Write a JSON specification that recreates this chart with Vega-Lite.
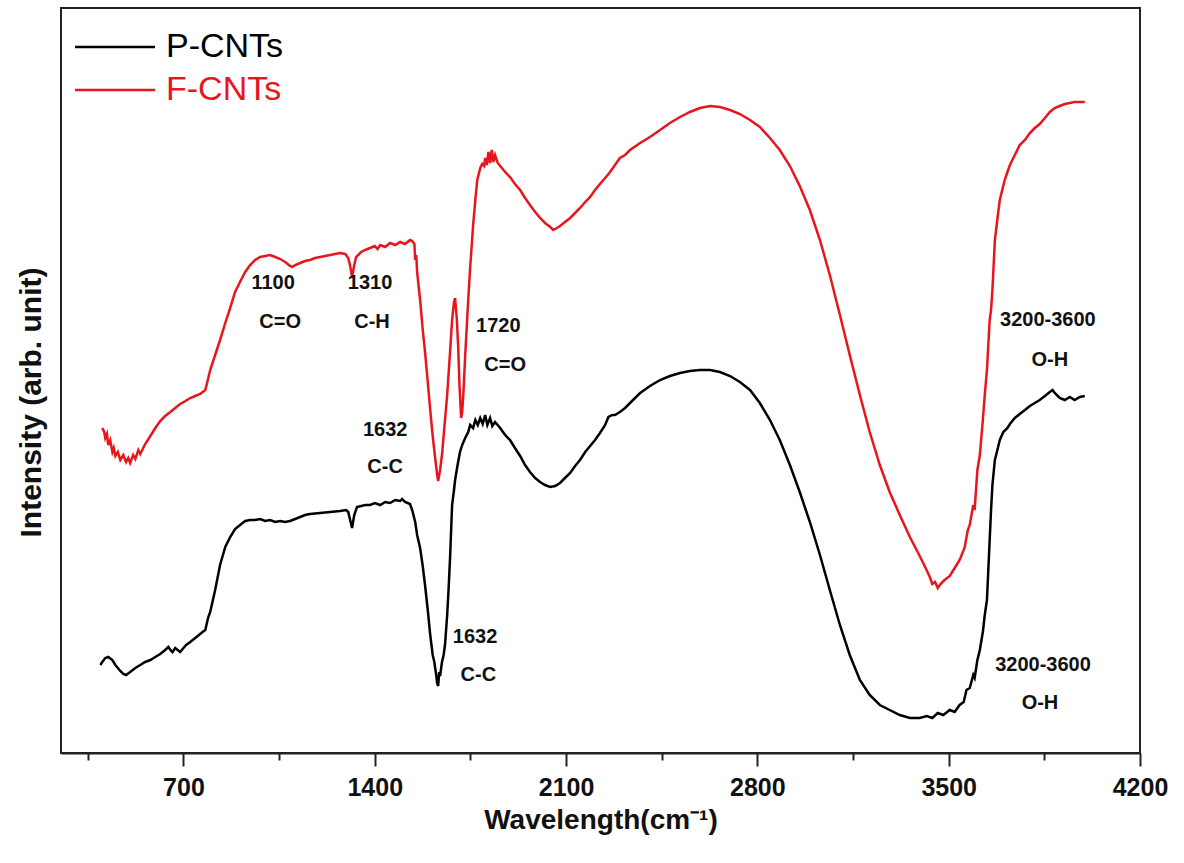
{
  "$schema": "https://vega.github.io/schema/vega-lite/v6.json",
  "width": 1079,
  "height": 745,
  "autosize": "none",
  "padding": {"left": 61, "top": 8, "right": 44, "bottom": 110},
  "config": {"view": {"stroke": "#222", "strokeWidth": 2}, "font": "Liberation Sans"},
  "datasets": {
    "spectra": [
      {"s":"F-CNTs","w":403,"i":325},{"s":"F-CNTs","w":410,"i":321},{"s":"F-CNTs","w":414,"i":315},{"s":"F-CNTs","w":420,"i":319},{"s":"F-CNTs","w":425,"i":308},{"s":"F-CNTs","w":432,"i":313},{"s":"F-CNTs","w":440,"i":301},{"s":"F-CNTs","w":445,"i":305},{"s":"F-CNTs","w":451,"i":297},{"s":"F-CNTs","w":460,"i":301},{"s":"F-CNTs","w":469,"i":293},{"s":"F-CNTs","w":480,"i":298},{"s":"F-CNTs","w":490,"i":291},{"s":"F-CNTs","w":498,"i":295},{"s":"F-CNTs","w":505,"i":290},{"s":"F-CNTs","w":516,"i":298},{"s":"F-CNTs","w":524,"i":294},{"s":"F-CNTs","w":535,"i":303},{"s":"F-CNTs","w":542,"i":299},{"s":"F-CNTs","w":560,"i":309},{"s":"F-CNTs","w":579,"i":317},{"s":"F-CNTs","w":597,"i":325},{"s":"F-CNTs","w":615,"i":332},{"s":"F-CNTs","w":633,"i":337},{"s":"F-CNTs","w":652,"i":341},{"s":"F-CNTs","w":670,"i":345},{"s":"F-CNTs","w":688,"i":349},{"s":"F-CNTs","w":707,"i":352},{"s":"F-CNTs","w":725,"i":355},{"s":"F-CNTs","w":743,"i":357},{"s":"F-CNTs","w":761,"i":359},{"s":"F-CNTs","w":780,"i":363},{"s":"F-CNTs","w":798,"i":383},{"s":"F-CNTs","w":816,"i":398},{"s":"F-CNTs","w":834,"i":413},{"s":"F-CNTs","w":853,"i":430},{"s":"F-CNTs","w":871,"i":445},{"s":"F-CNTs","w":889,"i":461},{"s":"F-CNTs","w":907,"i":471},{"s":"F-CNTs","w":926,"i":481},{"s":"F-CNTs","w":944,"i":488},{"s":"F-CNTs","w":962,"i":493},{"s":"F-CNTs","w":981,"i":496},{"s":"F-CNTs","w":999,"i":497},{"s":"F-CNTs","w":1017,"i":498},{"s":"F-CNTs","w":1036,"i":496},{"s":"F-CNTs","w":1054,"i":494},{"s":"F-CNTs","w":1072,"i":491},{"s":"F-CNTs","w":1090,"i":487},{"s":"F-CNTs","w":1098,"i":486},{"s":"F-CNTs","w":1109,"i":488},{"s":"F-CNTs","w":1127,"i":490},{"s":"F-CNTs","w":1145,"i":492},{"s":"F-CNTs","w":1163,"i":493},{"s":"F-CNTs","w":1182,"i":495},{"s":"F-CNTs","w":1200,"i":496},{"s":"F-CNTs","w":1237,"i":498},{"s":"F-CNTs","w":1273,"i":500},{"s":"F-CNTs","w":1292,"i":499},{"s":"F-CNTs","w":1303,"i":495},{"s":"F-CNTs","w":1310,"i":487},{"s":"F-CNTs","w":1317,"i":476},{"s":"F-CNTs","w":1325,"i":488},{"s":"F-CNTs","w":1332,"i":496},{"s":"F-CNTs","w":1350,"i":501},{"s":"F-CNTs","w":1365,"i":503},{"s":"F-CNTs","w":1383,"i":505},{"s":"F-CNTs","w":1400,"i":507},{"s":"F-CNTs","w":1410,"i":504},{"s":"F-CNTs","w":1420,"i":508},{"s":"F-CNTs","w":1438,"i":506},{"s":"F-CNTs","w":1456,"i":510},{"s":"F-CNTs","w":1475,"i":508},{"s":"F-CNTs","w":1493,"i":511},{"s":"F-CNTs","w":1511,"i":509},{"s":"F-CNTs","w":1529,"i":513},{"s":"F-CNTs","w":1537,"i":512},{"s":"F-CNTs","w":1545,"i":509},{"s":"F-CNTs","w":1548,"i":493},{"s":"F-CNTs","w":1552,"i":498},{"s":"F-CNTs","w":1555,"i":481},{"s":"F-CNTs","w":1566,"i":453},{"s":"F-CNTs","w":1575,"i":425},{"s":"F-CNTs","w":1584,"i":401},{"s":"F-CNTs","w":1594,"i":371},{"s":"F-CNTs","w":1603,"i":343},{"s":"F-CNTs","w":1612,"i":317},{"s":"F-CNTs","w":1621,"i":295},{"s":"F-CNTs","w":1628,"i":279},{"s":"F-CNTs","w":1632,"i":272},{"s":"F-CNTs","w":1639,"i":283},{"s":"F-CNTs","w":1646,"i":298},{"s":"F-CNTs","w":1657,"i":333},{"s":"F-CNTs","w":1665,"i":358},{"s":"F-CNTs","w":1676,"i":403},{"s":"F-CNTs","w":1683,"i":433},{"s":"F-CNTs","w":1690,"i":451},{"s":"F-CNTs","w":1694,"i":455},{"s":"F-CNTs","w":1700,"i":435},{"s":"F-CNTs","w":1705,"i":408},{"s":"F-CNTs","w":1710,"i":368},{"s":"F-CNTs","w":1716,"i":335},{"s":"F-CNTs","w":1720,"i":341},{"s":"F-CNTs","w":1725,"i":363},{"s":"F-CNTs","w":1731,"i":398},{"s":"F-CNTs","w":1742,"i":453},{"s":"F-CNTs","w":1749,"i":485},{"s":"F-CNTs","w":1760,"i":528},{"s":"F-CNTs","w":1768,"i":553},{"s":"F-CNTs","w":1775,"i":573},{"s":"F-CNTs","w":1786,"i":585},{"s":"F-CNTs","w":1793,"i":589},{"s":"F-CNTs","w":1800,"i":587},{"s":"F-CNTs","w":1804,"i":595},{"s":"F-CNTs","w":1810,"i":588},{"s":"F-CNTs","w":1816,"i":601},{"s":"F-CNTs","w":1822,"i":590},{"s":"F-CNTs","w":1828,"i":603},{"s":"F-CNTs","w":1834,"i":591},{"s":"F-CNTs","w":1840,"i":598},{"s":"F-CNTs","w":1850,"i":590},{"s":"F-CNTs","w":1859,"i":587},{"s":"F-CNTs","w":1877,"i":581},{"s":"F-CNTs","w":1895,"i":576},{"s":"F-CNTs","w":1913,"i":569},{"s":"F-CNTs","w":1932,"i":563},{"s":"F-CNTs","w":1950,"i":555},{"s":"F-CNTs","w":1968,"i":548},{"s":"F-CNTs","w":1987,"i":541},{"s":"F-CNTs","w":2005,"i":535},{"s":"F-CNTs","w":2023,"i":530},{"s":"F-CNTs","w":2042,"i":526},{"s":"F-CNTs","w":2053,"i":523},{"s":"F-CNTs","w":2060,"i":524},{"s":"F-CNTs","w":2078,"i":527},{"s":"F-CNTs","w":2096,"i":531},{"s":"F-CNTs","w":2115,"i":535},{"s":"F-CNTs","w":2133,"i":540},{"s":"F-CNTs","w":2151,"i":545},{"s":"F-CNTs","w":2170,"i":551},{"s":"F-CNTs","w":2188,"i":556},{"s":"F-CNTs","w":2206,"i":563},{"s":"F-CNTs","w":2224,"i":569},{"s":"F-CNTs","w":2243,"i":575},{"s":"F-CNTs","w":2261,"i":581},{"s":"F-CNTs","w":2279,"i":588},{"s":"F-CNTs","w":2297,"i":595},{"s":"F-CNTs","w":2316,"i":598},{"s":"F-CNTs","w":2334,"i":603},{"s":"F-CNTs","w":2371,"i":610},{"s":"F-CNTs","w":2407,"i":616},{"s":"F-CNTs","w":2444,"i":623},{"s":"F-CNTs","w":2480,"i":630},{"s":"F-CNTs","w":2517,"i":636},{"s":"F-CNTs","w":2553,"i":641},{"s":"F-CNTs","w":2590,"i":645},{"s":"F-CNTs","w":2627,"i":647},{"s":"F-CNTs","w":2663,"i":646},{"s":"F-CNTs","w":2700,"i":643},{"s":"F-CNTs","w":2736,"i":639},{"s":"F-CNTs","w":2773,"i":633},{"s":"F-CNTs","w":2809,"i":626},{"s":"F-CNTs","w":2846,"i":615},{"s":"F-CNTs","w":2882,"i":603},{"s":"F-CNTs","w":2919,"i":587},{"s":"F-CNTs","w":2955,"i":567},{"s":"F-CNTs","w":2992,"i":543},{"s":"F-CNTs","w":3029,"i":513},{"s":"F-CNTs","w":3065,"i":478},{"s":"F-CNTs","w":3102,"i":438},{"s":"F-CNTs","w":3138,"i":398},{"s":"F-CNTs","w":3175,"i":358},{"s":"F-CNTs","w":3211,"i":321},{"s":"F-CNTs","w":3248,"i":288},{"s":"F-CNTs","w":3284,"i":261},{"s":"F-CNTs","w":3321,"i":238},{"s":"F-CNTs","w":3358,"i":216},{"s":"F-CNTs","w":3394,"i":197},{"s":"F-CNTs","w":3412,"i":187},{"s":"F-CNTs","w":3431,"i":176},{"s":"F-CNTs","w":3440,"i":169},{"s":"F-CNTs","w":3450,"i":171},{"s":"F-CNTs","w":3460,"i":165},{"s":"F-CNTs","w":3470,"i":169},{"s":"F-CNTs","w":3485,"i":173},{"s":"F-CNTs","w":3504,"i":177},{"s":"F-CNTs","w":3522,"i":185},{"s":"F-CNTs","w":3540,"i":193},{"s":"F-CNTs","w":3558,"i":205},{"s":"F-CNTs","w":3570,"i":223},{"s":"F-CNTs","w":3577,"i":228},{"s":"F-CNTs","w":3590,"i":248},{"s":"F-CNTs","w":3595,"i":243},{"s":"F-CNTs","w":3605,"i":283},{"s":"F-CNTs","w":3614,"i":298},{"s":"F-CNTs","w":3625,"i":333},{"s":"F-CNTs","w":3632,"i":358},{"s":"F-CNTs","w":3640,"i":383},{"s":"F-CNTs","w":3645,"i":408},{"s":"F-CNTs","w":3650,"i":433},{"s":"F-CNTs","w":3655,"i":443},{"s":"F-CNTs","w":3660,"i":463},{"s":"F-CNTs","w":3669,"i":513},{"s":"F-CNTs","w":3680,"i":538},{"s":"F-CNTs","w":3687,"i":553},{"s":"F-CNTs","w":3696,"i":563},{"s":"F-CNTs","w":3705,"i":573},{"s":"F-CNTs","w":3715,"i":581},{"s":"F-CNTs","w":3724,"i":588},{"s":"F-CNTs","w":3742,"i":598},{"s":"F-CNTs","w":3760,"i":608},{"s":"F-CNTs","w":3779,"i":613},{"s":"F-CNTs","w":3797,"i":620},{"s":"F-CNTs","w":3815,"i":625},{"s":"F-CNTs","w":3833,"i":629},{"s":"F-CNTs","w":3852,"i":635},{"s":"F-CNTs","w":3870,"i":641},{"s":"F-CNTs","w":3888,"i":645},{"s":"F-CNTs","w":3906,"i":647},{"s":"F-CNTs","w":3925,"i":649},{"s":"F-CNTs","w":3943,"i":650},{"s":"F-CNTs","w":3961,"i":651},{"s":"F-CNTs","w":3980,"i":651},{"s":"F-CNTs","w":3998,"i":651},
      {"s":"P-CNTs","w":396,"i":88},{"s":"P-CNTs","w":403,"i":91},{"s":"P-CNTs","w":414,"i":95},{"s":"P-CNTs","w":425,"i":96},{"s":"P-CNTs","w":440,"i":93},{"s":"P-CNTs","w":451,"i":88},{"s":"P-CNTs","w":469,"i":82},{"s":"P-CNTs","w":480,"i":79},{"s":"P-CNTs","w":490,"i":78},{"s":"P-CNTs","w":505,"i":81},{"s":"P-CNTs","w":524,"i":85},{"s":"P-CNTs","w":542,"i":88},{"s":"P-CNTs","w":560,"i":91},{"s":"P-CNTs","w":579,"i":93},{"s":"P-CNTs","w":597,"i":96},{"s":"P-CNTs","w":615,"i":99},{"s":"P-CNTs","w":633,"i":103},{"s":"P-CNTs","w":645,"i":106},{"s":"P-CNTs","w":652,"i":103},{"s":"P-CNTs","w":660,"i":101},{"s":"P-CNTs","w":670,"i":105},{"s":"P-CNTs","w":688,"i":101},{"s":"P-CNTs","w":700,"i":105},{"s":"P-CNTs","w":710,"i":108},{"s":"P-CNTs","w":725,"i":111},{"s":"P-CNTs","w":743,"i":115},{"s":"P-CNTs","w":761,"i":119},{"s":"P-CNTs","w":770,"i":121},{"s":"P-CNTs","w":780,"i":123},{"s":"P-CNTs","w":790,"i":135},{"s":"P-CNTs","w":798,"i":141},{"s":"P-CNTs","w":816,"i":163},{"s":"P-CNTs","w":834,"i":188},{"s":"P-CNTs","w":853,"i":206},{"s":"P-CNTs","w":871,"i":216},{"s":"P-CNTs","w":889,"i":224},{"s":"P-CNTs","w":907,"i":228},{"s":"P-CNTs","w":926,"i":232},{"s":"P-CNTs","w":944,"i":233},{"s":"P-CNTs","w":962,"i":233},{"s":"P-CNTs","w":981,"i":234},{"s":"P-CNTs","w":999,"i":232},{"s":"P-CNTs","w":1017,"i":233},{"s":"P-CNTs","w":1036,"i":231},{"s":"P-CNTs","w":1054,"i":232},{"s":"P-CNTs","w":1072,"i":231},{"s":"P-CNTs","w":1090,"i":232},{"s":"P-CNTs","w":1109,"i":234},{"s":"P-CNTs","w":1127,"i":236},{"s":"P-CNTs","w":1145,"i":238},{"s":"P-CNTs","w":1163,"i":239},{"s":"P-CNTs","w":1200,"i":240},{"s":"P-CNTs","w":1237,"i":241},{"s":"P-CNTs","w":1273,"i":242},{"s":"P-CNTs","w":1295,"i":243},{"s":"P-CNTs","w":1303,"i":241},{"s":"P-CNTs","w":1310,"i":233},{"s":"P-CNTs","w":1317,"i":225},{"s":"P-CNTs","w":1325,"i":238},{"s":"P-CNTs","w":1335,"i":246},{"s":"P-CNTs","w":1365,"i":248},{"s":"P-CNTs","w":1383,"i":248},{"s":"P-CNTs","w":1400,"i":250},{"s":"P-CNTs","w":1420,"i":248},{"s":"P-CNTs","w":1438,"i":251},{"s":"P-CNTs","w":1456,"i":250},{"s":"P-CNTs","w":1475,"i":253},{"s":"P-CNTs","w":1493,"i":252},{"s":"P-CNTs","w":1500,"i":254},{"s":"P-CNTs","w":1511,"i":251},{"s":"P-CNTs","w":1529,"i":249},{"s":"P-CNTs","w":1537,"i":243},{"s":"P-CNTs","w":1548,"i":231},{"s":"P-CNTs","w":1555,"i":218},{"s":"P-CNTs","w":1566,"i":205},{"s":"P-CNTs","w":1575,"i":188},{"s":"P-CNTs","w":1584,"i":168},{"s":"P-CNTs","w":1594,"i":143},{"s":"P-CNTs","w":1603,"i":118},{"s":"P-CNTs","w":1612,"i":98},{"s":"P-CNTs","w":1618,"i":91},{"s":"P-CNTs","w":1621,"i":85},{"s":"P-CNTs","w":1625,"i":78},{"s":"P-CNTs","w":1628,"i":70},{"s":"P-CNTs","w":1632,"i":67},{"s":"P-CNTs","w":1636,"i":81},{"s":"P-CNTs","w":1639,"i":77},{"s":"P-CNTs","w":1646,"i":91},{"s":"P-CNTs","w":1652,"i":98},{"s":"P-CNTs","w":1657,"i":108},{"s":"P-CNTs","w":1665,"i":138},{"s":"P-CNTs","w":1670,"i":163},{"s":"P-CNTs","w":1676,"i":198},{"s":"P-CNTs","w":1683,"i":248},{"s":"P-CNTs","w":1690,"i":263},{"s":"P-CNTs","w":1694,"i":273},{"s":"P-CNTs","w":1700,"i":283},{"s":"P-CNTs","w":1705,"i":291},{"s":"P-CNTs","w":1712,"i":301},{"s":"P-CNTs","w":1720,"i":308},{"s":"P-CNTs","w":1731,"i":315},{"s":"P-CNTs","w":1742,"i":321},{"s":"P-CNTs","w":1749,"i":328},{"s":"P-CNTs","w":1760,"i":325},{"s":"P-CNTs","w":1768,"i":333},{"s":"P-CNTs","w":1777,"i":328},{"s":"P-CNTs","w":1786,"i":335},{"s":"P-CNTs","w":1795,"i":329},{"s":"P-CNTs","w":1804,"i":338},{"s":"P-CNTs","w":1812,"i":328},{"s":"P-CNTs","w":1822,"i":335},{"s":"P-CNTs","w":1830,"i":327},{"s":"P-CNTs","w":1840,"i":331},{"s":"P-CNTs","w":1859,"i":325},{"s":"P-CNTs","w":1877,"i":318},{"s":"P-CNTs","w":1895,"i":313},{"s":"P-CNTs","w":1913,"i":305},{"s":"P-CNTs","w":1932,"i":297},{"s":"P-CNTs","w":1950,"i":288},{"s":"P-CNTs","w":1968,"i":281},{"s":"P-CNTs","w":1987,"i":275},{"s":"P-CNTs","w":2005,"i":271},{"s":"P-CNTs","w":2023,"i":268},{"s":"P-CNTs","w":2042,"i":266},{"s":"P-CNTs","w":2060,"i":267},{"s":"P-CNTs","w":2078,"i":270},{"s":"P-CNTs","w":2096,"i":275},{"s":"P-CNTs","w":2115,"i":280},{"s":"P-CNTs","w":2133,"i":287},{"s":"P-CNTs","w":2151,"i":293},{"s":"P-CNTs","w":2170,"i":301},{"s":"P-CNTs","w":2188,"i":307},{"s":"P-CNTs","w":2206,"i":313},{"s":"P-CNTs","w":2224,"i":320},{"s":"P-CNTs","w":2243,"i":328},{"s":"P-CNTs","w":2255,"i":336},{"s":"P-CNTs","w":2270,"i":338},{"s":"P-CNTs","w":2279,"i":338},{"s":"P-CNTs","w":2297,"i":341},{"s":"P-CNTs","w":2316,"i":345},{"s":"P-CNTs","w":2334,"i":350},{"s":"P-CNTs","w":2371,"i":360},{"s":"P-CNTs","w":2407,"i":367},{"s":"P-CNTs","w":2444,"i":373},{"s":"P-CNTs","w":2480,"i":377},{"s":"P-CNTs","w":2517,"i":380},{"s":"P-CNTs","w":2553,"i":382},{"s":"P-CNTs","w":2590,"i":383},{"s":"P-CNTs","w":2627,"i":383},{"s":"P-CNTs","w":2663,"i":381},{"s":"P-CNTs","w":2700,"i":377},{"s":"P-CNTs","w":2736,"i":371},{"s":"P-CNTs","w":2773,"i":363},{"s":"P-CNTs","w":2809,"i":350},{"s":"P-CNTs","w":2846,"i":333},{"s":"P-CNTs","w":2882,"i":313},{"s":"P-CNTs","w":2919,"i":288},{"s":"P-CNTs","w":2955,"i":261},{"s":"P-CNTs","w":2992,"i":231},{"s":"P-CNTs","w":3029,"i":198},{"s":"P-CNTs","w":3065,"i":163},{"s":"P-CNTs","w":3102,"i":128},{"s":"P-CNTs","w":3138,"i":98},{"s":"P-CNTs","w":3175,"i":73},{"s":"P-CNTs","w":3211,"i":58},{"s":"P-CNTs","w":3248,"i":48},{"s":"P-CNTs","w":3284,"i":43},{"s":"P-CNTs","w":3321,"i":38},{"s":"P-CNTs","w":3358,"i":35},{"s":"P-CNTs","w":3394,"i":35},{"s":"P-CNTs","w":3420,"i":37},{"s":"P-CNTs","w":3440,"i":35},{"s":"P-CNTs","w":3460,"i":40},{"s":"P-CNTs","w":3480,"i":38},{"s":"P-CNTs","w":3504,"i":43},{"s":"P-CNTs","w":3522,"i":41},{"s":"P-CNTs","w":3540,"i":48},{"s":"P-CNTs","w":3555,"i":51},{"s":"P-CNTs","w":3565,"i":63},{"s":"P-CNTs","w":3577,"i":65},{"s":"P-CNTs","w":3590,"i":78},{"s":"P-CNTs","w":3595,"i":75},{"s":"P-CNTs","w":3605,"i":93},{"s":"P-CNTs","w":3614,"i":103},{"s":"P-CNTs","w":3620,"i":113},{"s":"P-CNTs","w":3625,"i":121},{"s":"P-CNTs","w":3632,"i":138},{"s":"P-CNTs","w":3640,"i":153},{"s":"P-CNTs","w":3645,"i":183},{"s":"P-CNTs","w":3650,"i":213},{"s":"P-CNTs","w":3655,"i":243},{"s":"P-CNTs","w":3660,"i":268},{"s":"P-CNTs","w":3669,"i":293},{"s":"P-CNTs","w":3680,"i":305},{"s":"P-CNTs","w":3687,"i":313},{"s":"P-CNTs","w":3700,"i":321},{"s":"P-CNTs","w":3715,"i":325},{"s":"P-CNTs","w":3724,"i":329},{"s":"P-CNTs","w":3742,"i":335},{"s":"P-CNTs","w":3760,"i":339},{"s":"P-CNTs","w":3779,"i":343},{"s":"P-CNTs","w":3797,"i":347},{"s":"P-CNTs","w":3815,"i":350},{"s":"P-CNTs","w":3833,"i":353},{"s":"P-CNTs","w":3852,"i":357},{"s":"P-CNTs","w":3870,"i":361},{"s":"P-CNTs","w":3880,"i":363},{"s":"P-CNTs","w":3888,"i":360},{"s":"P-CNTs","w":3906,"i":355},{"s":"P-CNTs","w":3925,"i":353},{"s":"P-CNTs","w":3943,"i":356},{"s":"P-CNTs","w":3961,"i":353},{"s":"P-CNTs","w":3980,"i":356},{"s":"P-CNTs","w":3998,"i":357}
    ],
    "notes": [
      {"w":1028,"i":470,"t":"1100"},{"w":1054,"i":431,"t":"C=O"},
      {"w":1383,"i":470,"t":"1310"},{"w":1390,"i":431,"t":"C-H"},
      {"w":1852,"i":427,"t":"1720"},{"w":1877,"i":388,"t":"C=O"},
      {"w":1438,"i":323,"t":"1632"},{"w":1438,"i":286,"t":"C-C"},
      {"w":1767,"i":116,"t":"1632"},{"w":1779,"i":78,"t":"C-C"},
      {"w":3863,"i":433,"t":"3200-3600"},{"w":3870,"i":393,"t":"O-H"},
      {"w":3845,"i":88,"t":"3200-3600"},{"w":3834,"i":50,"t":"O-H"}
    ]
  },
  "layer": [
    {
      "data": {"name": "spectra"},
      "mark": {"type": "line", "strokeWidth": 2.5},
      "encoding": {
        "x": {
          "field": "w", "type": "quantitative",
          "scale": {"domain": [252, 4200], "nice": false, "zero": false},
          "axis": {
            "values": [350, 700, 1050, 1400, 1750, 2100, 2450, 2800, 3150, 3500, 3850, 4200],
            "format": "d",
            "labelExpr": "datum.value % 700 === 0 ? datum.label : ''",
            "tickSize": {"condition": {"test": "datum.value % 700 === 0", "value": 13}, "value": 7},
            "tickColor": "#222", "tickWidth": 2,
            "domainColor": "#222", "domainWidth": 2,
            "grid": false,
            "labelFont": "Liberation Sans", "labelFontSize": 25, "labelFontWeight": "bold", "labelColor": "#111",
            "labelPadding": 9, "labelFlush": false, "labelOverlap": false,
            "title": "Wavelength(cm⁻¹)",
            "titleFont": "Liberation Sans", "titleFontSize": 28, "titleFontWeight": "bold", "titleColor": "#111",
            "titlePadding": 6
          }
        },
        "y": {
          "field": "i", "type": "quantitative",
          "scale": {"domain": [0, 745], "nice": false, "zero": false},
          "axis": {
            "domain": false, "ticks": false, "labels": false, "grid": false,
            "title": "Intensity (arb. unit)",
            "titleFont": "Liberation Sans", "titleFontSize": 30, "titleFontWeight": "bold", "titleColor": "#111",
            "titlePadding": 15, "titleY": 394
          }
        },
        "color": {
          "field": "s", "type": "nominal",
          "scale": {"domain": ["P-CNTs", "F-CNTs"], "range": ["#000000", "#e8161c"]},
          "legend": {
            "orient": "none", "legendX": 71, "legendY": 22,
            "title": null,
            "symbolType": "M-7.4,0H0.6", "symbolSize": 400, "symbolStrokeWidth": 2.5,
            "labelFont": "Liberation Sans", "labelFontSize": 34, "labelOffset": 0, "labelLimit": 300,
            "rowPadding": 9, "padding": 0,
            "encode": {"labels": {"update": {"fill": {"signal": "datum.label === 'F-CNTs' ? '#e8161c' : '#000000'"}}}}
          }
        }
      }
    },
    {
      "data": {"name": "notes"},
      "mark": {"type": "text", "font": "Liberation Sans", "fontSize": 20, "fontWeight": "bold", "color": "#111", "align": "center", "baseline": "middle"},
      "encoding": {
        "x": {"field": "w", "type": "quantitative"},
        "y": {"field": "i", "type": "quantitative"},
        "text": {"field": "t"}
      }
    }
  ]
}
